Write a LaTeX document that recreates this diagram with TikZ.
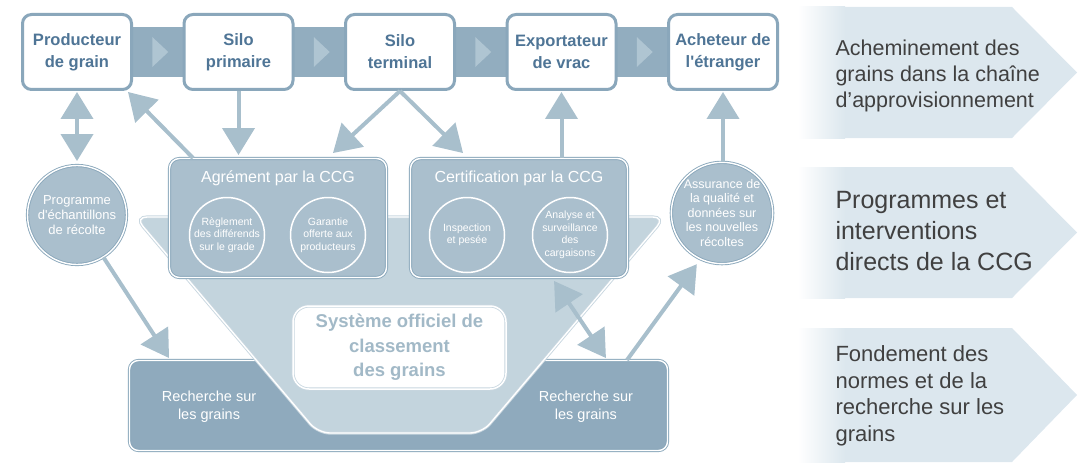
\documentclass[tikz,border=0pt]{standalone}
\usepackage{fontspec}
\setmainfont{Liberation Sans}
\usetikzlibrary{positioning, arrows.meta, calc, backgrounds}

\definecolor{boxline}{HTML}{8AA7BB}
\definecolor{band}{HTML}{92ADBF}
\definecolor{bandtri}{HTML}{AFC5D2}
\definecolor{arrowc}{HTML}{A8BFCC}
\definecolor{toptext}{HTML}{4F7596}
\definecolor{panel}{HTML}{AABFCD}
\definecolor{funnel}{HTML}{C3D4DD}
\definecolor{deep}{HTML}{8FAABD}
\definecolor{systext}{HTML}{A2B9C7}
\definecolor{sysline}{HTML}{C9D7E0}
\definecolor{chev}{HTML}{DCE7EE}
\definecolor{chevtext}{HTML}{404040}

\begin{document}
\begin{tikzpicture}[x=1pt, y=-1pt, node distance=49.5pt,
    >={Triangle[width=32pt,length=27pt]},
    etape/.style={draw=boxline, line width=3pt, fill=white, rounded corners=9pt,
      minimum width=109pt, minimum height=75pt, inner sep=0pt, align=center,
      text=toptext, font=\bfseries\fontsize{16.5}{22}\selectfont},
    bord/.style={draw=boxline, double=white, line width=0.9pt, double distance=1.4pt},
    panneau/.style={bord, fill=panel, rounded corners=10pt, minimum width=217pt,
      minimum height=119pt, inner sep=0pt},
    titre/.style={text=white, font=\fontsize{16}{19}\selectfont},
    rond/.style={bord, circle, fill=panel, minimum size=99pt, inner sep=0pt,
      align=center, text=white},
    petitrond/.style={draw=white, line width=1.5pt, circle, minimum size=75pt,
      inner sep=0pt, align=center, text=white, font=\fontsize{10.5}{12.5}\selectfont},
    lien/.style={draw=arrowc, line width=4pt},
    chevtxt/.style={anchor=west, align=left, text=chevtext}]
\useasboundingbox (0,0) rectangle (1078,468);

% chaîne d'approvisionnement
\node[etape] (prod) at (77,52) {Producteur\\de grain};
\node[etape, right=of prod] (sprim) {Silo\\primaire};
\node[etape, right=of sprim] (sterm) {Silo\\terminal};
\node[etape, right=of sterm] (export) {Exportateur\\de vrac};
\node[etape, right=of export] (achet) {Acheteur de\\l\textquotesingle{}étranger};

\begin{pgfonlayer}{background}
  \fill[band] ([yshift=25pt]prod.east) rectangle ([yshift=-25pt]achet.west);
  \foreach \a/\b in {prod/sprim, sprim/sterm, sterm/export, export/achet}
    \fill[bandtri] ($(\a.east)!0.5!(\b.west)+(-5.5,-15)$) -- ++(16,15) -- ++(-16,15) -- cycle;
\end{pgfonlayer}

% bandeaux de droite
\foreach \t/\b in {7/138, 167/298, 328/462}{
  \fill[chev] (798,\t) -- (1012,\t) -- (1077,{(\t+\b)/2}) -- (1012,\b) -- (798,\b) -- cycle;
  \shade[left color=white, right color=chev] (798,\t) rectangle (845,\b);
}
\node[chevtxt, font=\fontsize{21.5}{26}\selectfont] (chA) at (832,76)
  {Acheminement des\\grains dans la chaîne\\d’approvisionnement};
\node[chevtxt, font=\fontsize{25}{31}\selectfont] (chB) at (832,231)
  {Programmes et\\interventions\\directs de la CCG};
\node[chevtxt, font=\fontsize{22}{26.5}\selectfont] (chC) at (832,396)
  {Fondement des\\normes et de la\\recherche sur les\\grains};

% recherche et système de classement
\node[bord, fill=deep, rounded corners=9pt, minimum width=538pt, minimum height=90pt] (rech) at (398.5,405.5) {};
\node[text=white, align=center, font=\fontsize{14.5}{18}\selectfont] (rechG) at ([xshift=80pt,yshift=-1pt]rech.west) {Recherche sur\\les grains};
\node[text=white, align=center, font=\fontsize{14.5}{18}\selectfont] (rechD) at ([xshift=-82pt,yshift=-1pt]rech.east) {Recherche sur\\les grains};

\draw[bord, draw=sysline, fill=funnel, rounded corners=12pt]
  (135,217) -- (665,217) -- (482,433) -- (318,433) -- cycle;
\node[draw=sysline, double=white, line width=0.8pt, double distance=1.5pt, fill=white,
  rounded corners=16pt, minimum width=213pt, minimum height=83pt, align=center,
  text=systext, font=\bfseries\fontsize{18.5}{24.5}\selectfont] (sys) at (399.5,347.5)
  {Système officiel de\\classement\\des grains};

% agrément et certification
\node[panneau] (agr) at (278,218) {};
\node[titre] (agrT) at ([yshift=-20pt]agr.north) {Agrément par la CCG};
\node[petitrond] (rgl) at ([xshift=-51pt,yshift=-17pt]agr.center) {Règlement\\des différends\\sur le grade};
\node[petitrond] (gar) at ([xshift=50pt,yshift=-17pt]agr.center) {Garantie\\offerte aux\\producteurs};

\node[panneau] (cert) at (519,218) {};
\node[titre] (certT) at ([yshift=-20pt]cert.north) {Certification par la CCG};
\node[petitrond] (insp) at ([xshift=-52pt,yshift=-17pt]cert.center) {Inspection\\et pesée};
\node[petitrond] (anal) at ([xshift=51pt,yshift=-17pt]cert.center) {Analyse et\\surveillance\\des\\cargaisons};

% programmes
\node[rond, font=\fontsize{13}{15}\selectfont] (prog) at (77,215) {Programme\\d\textquotesingle{}échantillons\\de récolte};
\node[rond, font=\fontsize{12.5}{14.5}\selectfont] (assur) at (722,213) {Assurance de\\la qualité et\\données sur\\les nouvelles\\récoltes};

% flèches
\draw[lien, <->, shorten <=1pt, shorten >=4pt] (prod.south) -- (prog.north);
\draw[lien, ->] ([xshift=24pt]agr.north west) -- ([xshift=-5pt,yshift=-1pt]prod.south east);
\draw[lien, ->, shorten >=3pt] (sprim.south) -- (sprim.south |- agr.north);
\draw[lien, ->] (sterm.south) -- ([xshift=-54pt,yshift=5pt]agr.north east);
\draw[lien, ->] (sterm.south) -- ([xshift=53pt,yshift=5pt]cert.north west);
\draw[lien, ->, shorten >=1pt] (export.south |- cert.north) -- (export.south);
\draw[lien, ->, shorten >=1pt] (achet.south |- assur.north) -- (achet.south);
\draw[lien, ->] (prog.-58) -- ([xshift=40pt,yshift=2pt]rech.north west);
\draw[lien, <->] ([xshift=144pt,yshift=-3pt]cert.south west) -- ([xshift=-62pt,yshift=2pt]rech.north east);
\draw[lien, ->, shorten >=6pt] ([xshift=-41pt]rech.north east) -- (assur.-115);
\end{tikzpicture}
\end{document}
